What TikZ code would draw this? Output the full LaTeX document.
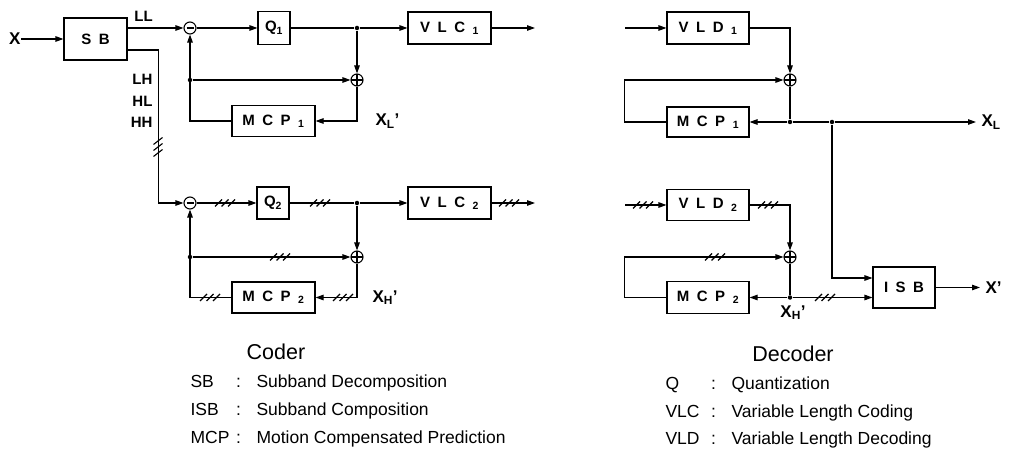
\documentclass[tikz,border=0pt]{standalone}
\usepackage{fontspec}
\setmainfont{Liberation Sans}
\usetikzlibrary{arrows.meta}
\newcommand{\lsp}{\hskip0.5em}
\newcommand{\legrow}[2]{\makebox[41pt][l]{#1}\makebox[14pt]{:}\hspace{11pt}#2}

\begin{document}
\begin{tikzpicture}[x=1pt,y=-1pt,line width=1.1pt,
   blk/.style={draw,inner sep=0pt,font=\fontsize{15}{15}\selectfont\bfseries},
   sig/.style={inner sep=0pt,font=\fontsize{15}{15}\selectfont\bfseries},
   xsig/.style={inner sep=0pt,font=\fontsize{17}{17}\selectfont\bfseries},
   leg/.style={inner sep=0pt,anchor=base west,font=\fontsize{17.5}{18}\selectfont},
   head/.style={inner sep=0pt,anchor=base,font=\fontsize{21.5}{22}\selectfont},
   arr/.style={-{Triangle[length=8pt,width=5.5pt]}},
   dot/.style={circle,fill,inner sep=0pt,minimum size=4.5pt},
   sumplus/.style={draw,circle,inner sep=0pt,minimum size=12pt,
     path picture={\draw (path picture bounding box.north) -- (path picture bounding box.south)
       (path picture bounding box.west) -- (path picture bounding box.east);}},
   summinus/.style={draw,circle,inner sep=0pt,minimum size=12pt,
     path picture={\draw ([xshift=2.5pt]path picture bounding box.west) -- ([xshift=-2.5pt]path picture bounding box.east);}},
   bus/.pic={\foreach \o in {-6.5,0,6.5} \draw[line width=1.1pt] (\o-3.5,3.5) -- (\o+3.5,-3.5);},
   vbus/.pic={\foreach \o in {-6,0,6} \draw[line width=1.1pt] (-4.5,\o+3.5) -- (4.5,\o-3.5);}]
  \useasboundingbox (0,0) rectangle (1009,449);

  % coder, low band
  \node[xsig,anchor=east] (x) at (21,39) {X};
  \node[blk,minimum width=63pt,minimum height=42pt] (sb) at (95.5,39) {S\lsp B};
  \node[sig] (ll) at (143.5,16) {LL};
  \node[sig,anchor=east] (lh) at (153,79) {LH};
  \node[sig,anchor=east] (hl) at (153,101) {HL};
  \node[sig,anchor=east] (hh) at (153,122) {HH};
  \node[summinus] (m1) at (190,28) {};
  \node[blk,minimum width=32pt,minimum height=33pt] (q1) at (274,28) {Q\textsubscript{1}};
  \node[dot] (j1) at (357,28) {};
  \node[blk,minimum width=83pt,minimum height=32pt] (vlc1) at (449.5,28) {V\lsp L\lsp C\lsp\textsubscript{1}};
  \coordinate (o1) at (535,28);
  \node[sumplus] (a1) at (357,80) {};
  \node[dot] (d1) at (190,80) {};
  \node[blk,minimum width=83pt,minimum height=31pt] (mcp1) at (273.5,121) {M\lsp C\lsp P\lsp\textsubscript{1}};
  \node[xsig,anchor=west] (xl1) at (375,121) {X\textsubscript{L}'};

  \draw[arr] (x) -- (sb);
  \draw[arr] (sb.east |- m1) -- (m1);
  \draw[arr] (m1) -- (q1);
  \draw (q1) -- (j1);
  \draw[arr] (j1) -- (vlc1);
  \draw[arr] (vlc1) -- (o1);
  \draw[arr] (j1) -- (a1);
  \draw[arr] (d1) -- (a1);
  \draw[arr] (a1) |- (mcp1);
  \draw[arr] (mcp1) -| (m1);

  % coder, high bands
  \node[summinus] (m2) at (190,203) {};
  \node[blk,minimum width=32pt,minimum height=32pt] (q2) at (273,203) {Q\textsubscript{2}};
  \node[dot] (j2) at (357,203) {};
  \node[blk,minimum width=83pt,minimum height=32pt] (vlc2) at (449.5,203) {V\lsp L\lsp C\lsp\textsubscript{2}};
  \coordinate (o2) at (535,203);
  \node[sumplus] (a2) at (357,257) {};
  \node[dot] (d2) at (190,257) {};
  \node[blk,minimum width=83pt,minimum height=31pt] (mcp2) at (273.5,297.5) {M\lsp C\lsp P\lsp\textsubscript{2}};
  \node[xsig,anchor=west] (xh1) at (372,297.5) {X\textsubscript{H}'};

  \draw[arr] ([yshift=-11pt]sb.east) -- ++(31,0) |- (m2);
  \draw[arr] (m2) -- (q2);
  \draw (q2) -- (j2);
  \draw[arr] (j2) -- (vlc2);
  \draw[arr] (vlc2) -- (o2);
  \draw[arr] (j2) -- (a2);
  \draw[arr] (d2) -- (a2);
  \draw[arr] (a2) |- (mcp2);
  \draw[arr] (mcp2) -| (m2);
  \pic at (158,147) {vbus};
  \pic at (225,203) {bus};
  \pic at (320,203) {bus};
  \pic at (509,203) {bus};
  \pic at (280,257) {bus};
  \pic at (210,297.5) {bus};
  \pic at (343,297.5) {bus};

  % decoder, low band
  \coordinate (i1) at (625,28);
  \node[blk,minimum width=82pt,minimum height=32pt] (vld1) at (708,28) {V\lsp L\lsp D\lsp\textsubscript{1}};
  \node[sumplus] (a3) at (790,80) {};
  \node[blk,minimum width=82pt,minimum height=30pt] (mcp3) at (708,122) {M\lsp C\lsp P\lsp\textsubscript{1}};
  \node[dot] (d3) at (790,122) {};
  \node[dot] (d4) at (832,122) {};
  \coordinate (o3) at (976,122);
  \node[xsig,anchor=west] (xl) at (981,122) {X\textsubscript{L}};
  \node[blk,minimum width=62pt,minimum height=41pt] (isb) at (904,287.5) {I\lsp S\lsp B};
  \coordinate (o4) at (980,287.5);
  \node[xsig,anchor=west] (xo) at (985,287.5) {X'};

  \draw[arr] (i1) -- (vld1);
  \draw[arr] (vld1) -| (a3);
  \draw[arr] (mcp3.west) -- ++(-42,0) |- (a3);
  \draw (a3) -- (d3);
  \draw[arr] (d3) -- (mcp3);
  \draw (d3) -- (d4);
  \draw[arr] (d4) -- (o3);
  \draw[arr] (d4) |- ([yshift=9.5pt]isb.west);
  \draw[arr] (isb) -- (o4);

  % decoder, high bands
  \coordinate (i2) at (625,205);
  \node[blk,minimum width=82pt,minimum height=31pt] (vld2) at (708,205) {V\lsp L\lsp D\lsp\textsubscript{2}};
  \node[sumplus] (a4) at (790,257) {};
  \node[blk,minimum width=82pt,minimum height=32pt] (mcp4) at (708,297.5) {M\lsp C\lsp P\lsp\textsubscript{2}};
  \node[dot] (d5) at (790,297.5) {};
  \node[xsig,anchor=north] (xh2) at (793,305) {X\textsubscript{H}'};

  \draw[arr] (i2) -- (vld2);
  \draw[arr] (vld2) -| (a4);
  \draw[arr] (mcp4.west) -- ++(-42,0) |- (a4);
  \draw (a4) -- (d5);
  \draw[arr] (d5) -- (mcp4);
  \draw[arr] (d5) -- (isb.west |- d5);
  \pic at (643,205) {bus};
  \pic at (768,205) {bus};
  \pic at (715,257) {bus};
  \pic at (825,297.5) {bus};

  % legend
  \node[head] (coder) at (276,359) {Coder};
  \node[leg] (lsb) at (190,387) {\legrow{SB}{Subband Decomposition}};
  \node[leg] (lisb) at (190,415) {\legrow{ISB}{Subband Composition}};
  \node[leg] (lmcp) at (190,443) {\legrow{MCP}{Motion Compensated Prediction}};
  \node[head] (decoder) at (793,361) {Decoder};
  \node[leg] (lq) at (665,389) {\legrow{Q}{Quantization}};
  \node[leg] (lvlc) at (665,417) {\legrow{VLC}{Variable Length Coding}};
  \node[leg] (lvld) at (665,444) {\legrow{VLD}{Variable Length Decoding}};
\end{tikzpicture}
\end{document}
